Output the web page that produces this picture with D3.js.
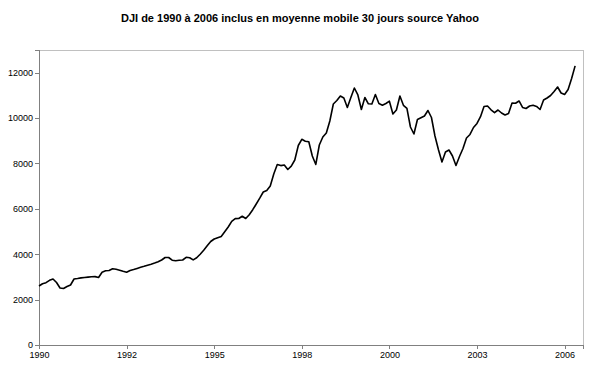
<!DOCTYPE html>
<html>
<head>
<meta charset="utf-8">
<script src="https://cdn.jsdelivr.net/npm/d3@7"></script>
<style>
  html, body { margin: 0; padding: 0; background: #fff; }
  svg { display: block; font-family: "Liberation Sans", Arial, sans-serif; }
</style>
</head>
<body>
<svg id="chart" width="600" height="374"></svg>
<script>
// ---- data (30-day moving average of DJI, sampled evenly along the category axis) ----
const title = "DJI de 1990 à 2006 inclus en moyenne mobile 30 jours source Yahoo";
const tickLabels = ["1990", "1992", "1995", "1998", "2000", "2003", "2006"];
const yTicks = [0, 2000, 4000, 6000, 8000, 10000, 12000];
const values = [
  2600, 2701, 2746, 2851, 2909, 2754, 2512, 2490, 2578, 2644,
  2909, 2931, 2957, 2975, 2992, 3006, 3014, 2975, 3208, 3270,
  3283, 3363, 3336, 3296, 3248, 3204, 3283, 3327, 3376, 3424,
  3468, 3517, 3561, 3609, 3667, 3746, 3856, 3856, 3737, 3711,
  3737, 3746, 3865, 3847, 3750, 3843, 4001, 4173, 4372, 4561,
  4671, 4729, 4782, 4989, 5200, 5451, 5570, 5575, 5672, 5575,
  5742, 5963, 6214, 6469, 6743, 6809, 7007, 7536, 7955, 7906,
  7933, 7734, 7880, 8153, 8792, 9065, 8982, 8955, 8329, 7955,
  8814, 9167, 9343, 9872, 10621, 10775, 10973, 10885, 10467, 10907,
  11326, 11018, 10378, 10907, 10629, 10621, 11040, 10643, 10568, 10643,
  10744, 10180, 10356, 10973, 10563, 10431, 9607, 9299, 9938, 10013,
  10092, 10334, 10026, 9211, 8607, 8065, 8506, 8594, 8329, 7911,
  8307, 8660, 9122, 9277, 9585, 9762, 10061, 10511, 10533, 10365,
  10237, 10356, 10224, 10136, 10202, 10665, 10652, 10753, 10467, 10423,
  10533, 10563, 10511, 10378, 10797, 10885, 10995, 11172, 11370, 11106,
  11040, 11260, 11745, 12300
];
const tickEvery = 25;     // samples between category-axis labels
const xMax = 155.25;      // category extent of the axis
const yMax = 13000;

// ---- layout ----
const svg = d3.select("#chart");
const plot = { left: 39, right: 583, top: 50, bottom: 345 };

const x = d3.scaleLinear().domain([0, xMax]).range([plot.left, plot.right]);
const y = d3.scaleLinear().domain([0, yMax]).range([plot.bottom, plot.top]);

// title
svg.append("text")
  .attr("x", 300).attr("y", 22)
  .attr("text-anchor", "middle")
  .attr("font-size", 11).attr("font-weight", "bold")
  .attr("fill", "#000")
  .text(title);

// plot area border
svg.append("rect")
  .attr("x", plot.left).attr("y", plot.top)
  .attr("width", plot.right - plot.left).attr("height", plot.bottom - plot.top)
  .attr("fill", "none").attr("stroke", "#c0c0c0").attr("stroke-width", 1)
  .attr("shape-rendering", "crispEdges");

// y axis
const yAxis = d3.axisLeft(y).tickValues(yTicks).tickSize(4).tickPadding(2).tickFormat(d3.format("d"));
const gy = svg.append("g").attr("transform", `translate(${plot.left},0)`).call(yAxis);
gy.select(".domain").attr("stroke", "#808080").attr("shape-rendering", "crispEdges");
gy.selectAll(".tick line").attr("stroke", "#808080").attr("shape-rendering", "crispEdges");
gy.selectAll(".tick text").attr("font-size", 9).attr("fill", "#000").attr("font-family", "Liberation Sans, Arial, sans-serif");

// x axis
const xTickVals = tickLabels.map((_, i) => i * tickEvery);
const xAxis = d3.axisBottom(x).tickValues(xTickVals).tickSize(4).tickPadding(3)
  .tickFormat((d, i) => tickLabels[i]);
const gx = svg.append("g").attr("transform", `translate(0,${plot.bottom})`).call(xAxis);
gx.select(".domain").attr("stroke", "#808080").attr("shape-rendering", "crispEdges");
gx.selectAll(".tick line").attr("stroke", "#808080").attr("shape-rendering", "crispEdges");
gx.selectAll(".tick text").attr("font-size", 9).attr("fill", "#000").attr("font-family", "Liberation Sans, Arial, sans-serif");

// line
const line = d3.line().x((d, i) => x(i)).y(d => y(d));
svg.append("path")
  .datum(values)
  .attr("fill", "none")
  .attr("stroke", "#000")
  .attr("stroke-width", 1.6)
  .attr("stroke-linejoin", "round")
  .attr("d", line);
</script>
</body>
</html>
